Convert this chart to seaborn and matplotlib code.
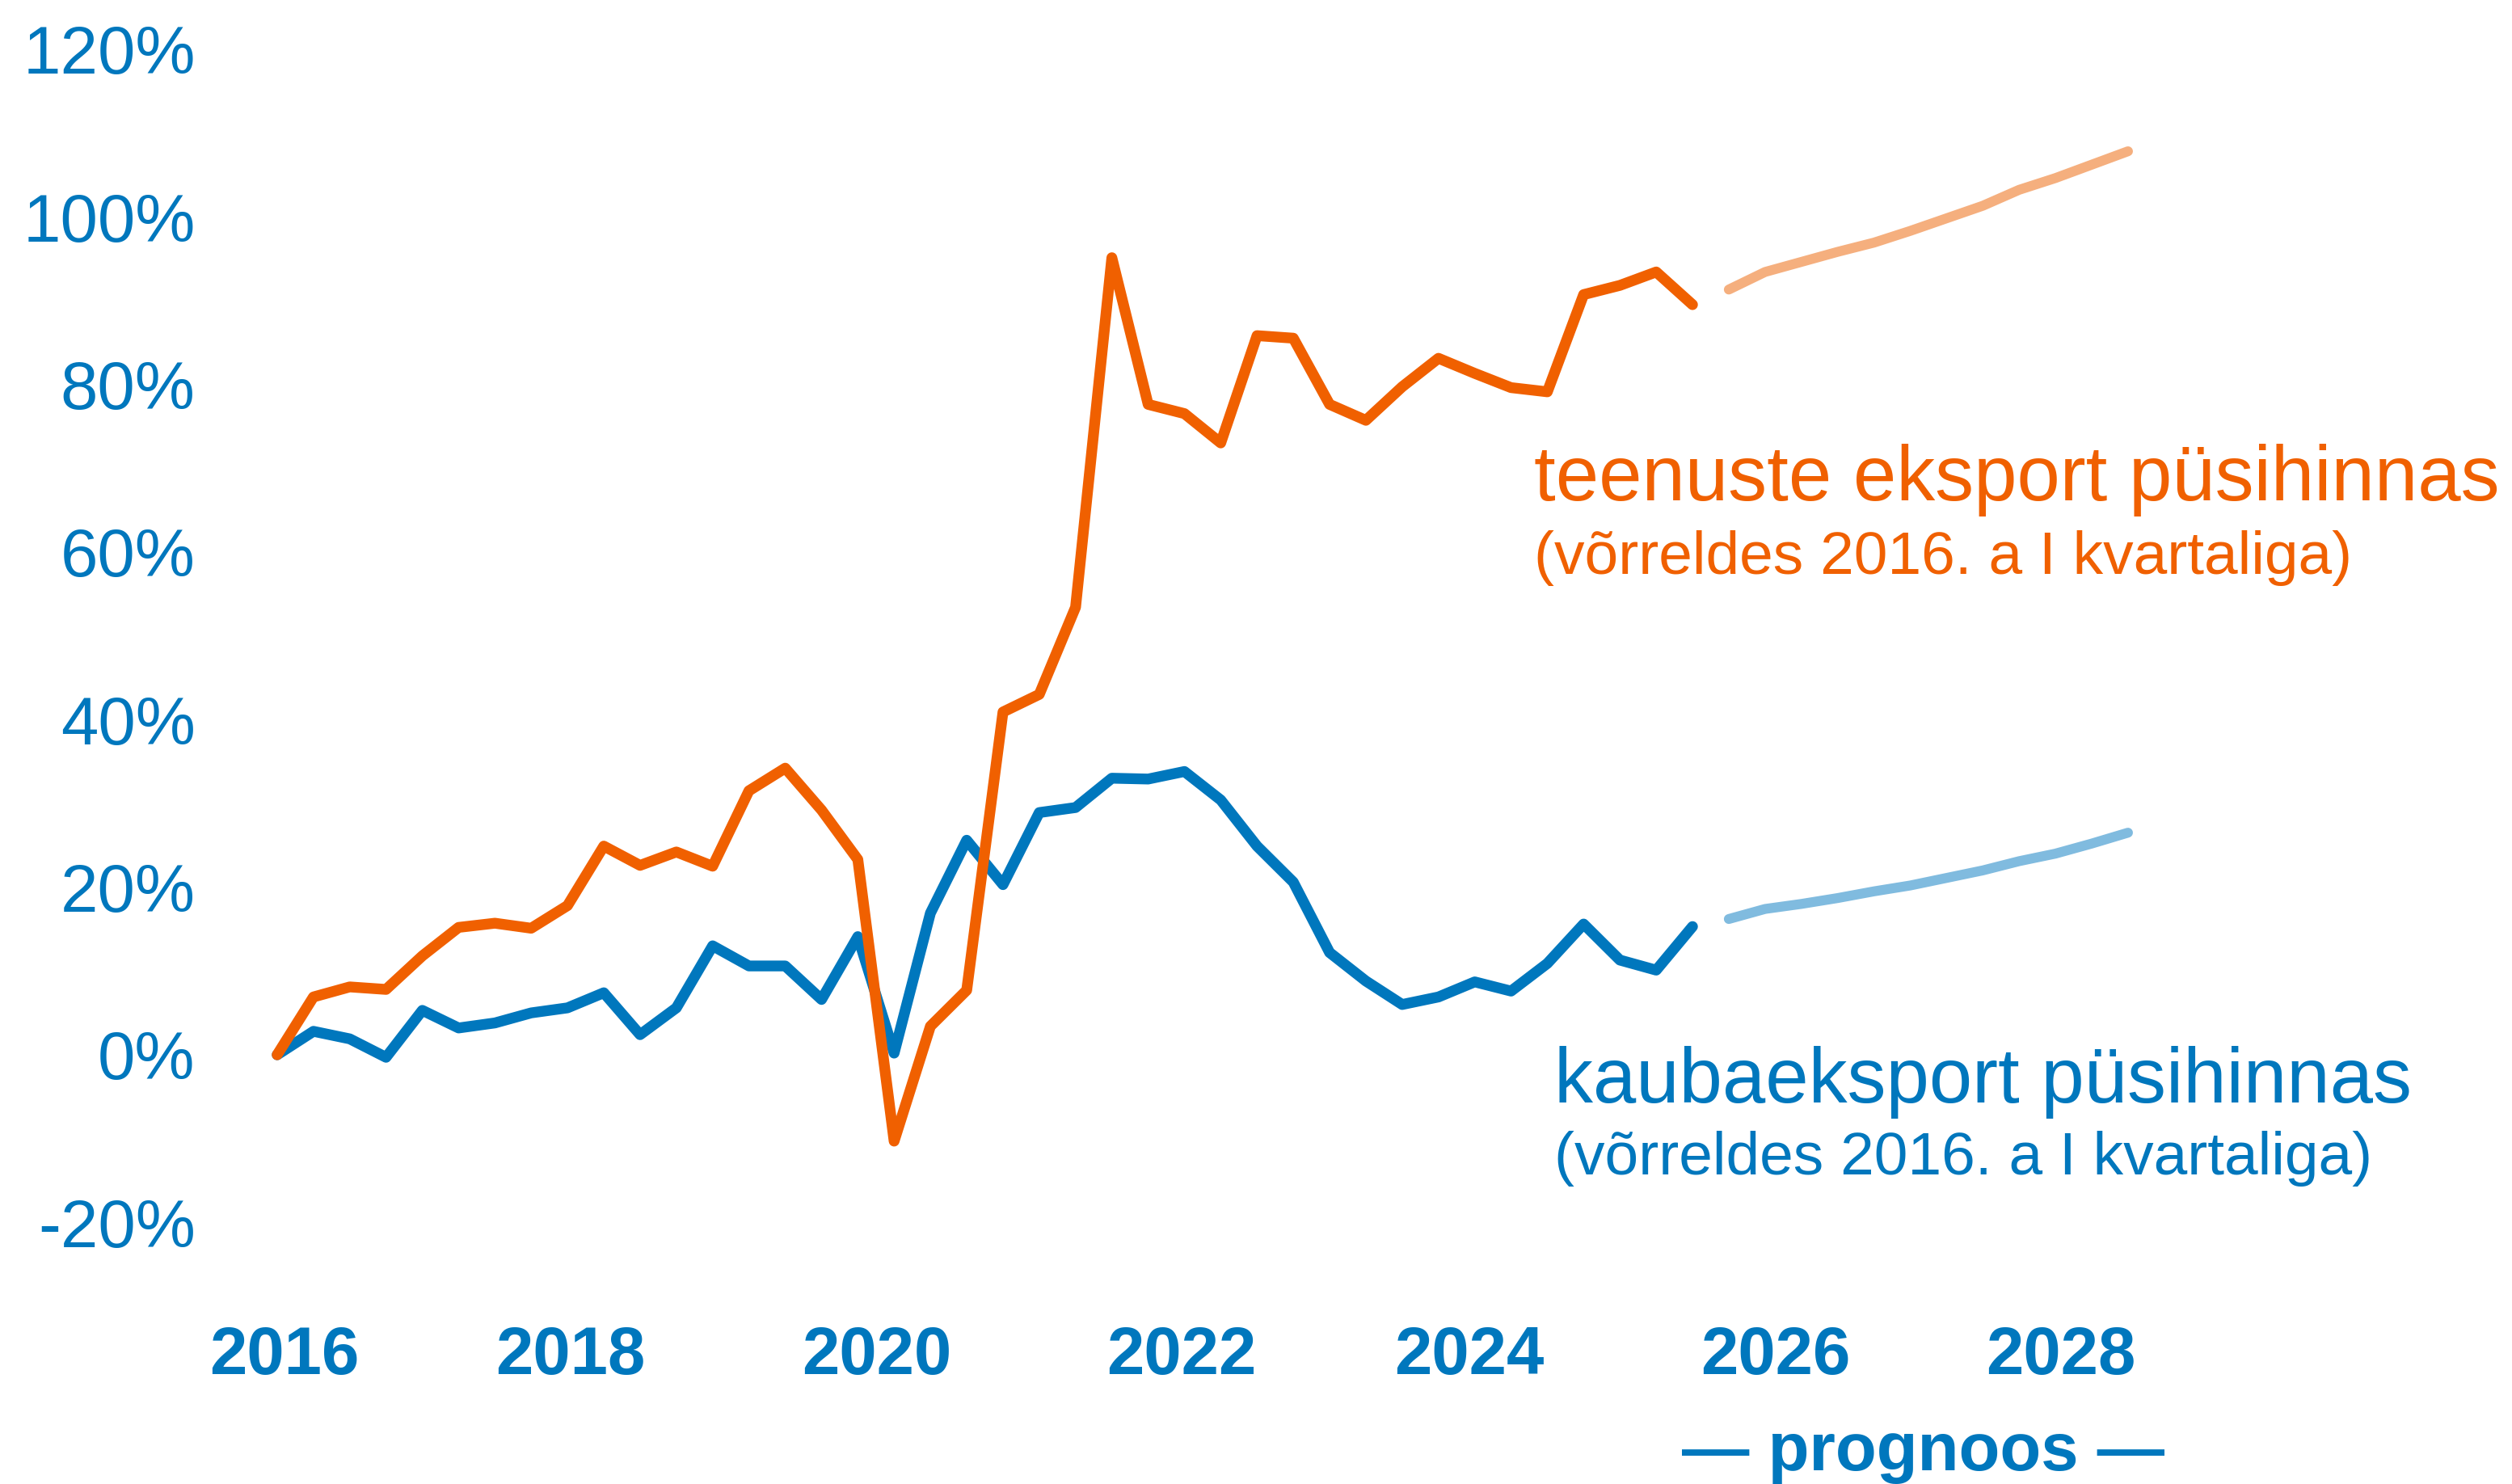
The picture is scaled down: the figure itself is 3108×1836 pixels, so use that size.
import pandas as pd
import seaborn as sns
import matplotlib.pyplot as plt

# quarterly index, 2016 Q1 = 0%
actual_quarters = pd.period_range("2016Q1", "2025Q4", freq="Q")
forecast_quarters = pd.period_range("2026Q1", "2028Q4", freq="Q")

services = [0.0, 6.9, 8.1, 7.8, 11.8, 15.2, 15.7, 15.1, 17.8, 24.9,
            22.6, 24.2, 22.5, 31.5, 34.2, 29.2, 23.3, -10.3, 3.4, 7.7,
            40.9, 43.0, 53.4, 95.1, 77.6, 76.5, 73.0, 85.8, 85.5, 77.6,
            75.7, 79.7, 83.1, 81.3, 79.6, 79.1, 90.7, 91.8, 93.4, 89.5]
goods = [0.0, 2.8, 1.9, -0.3, 5.3, 3.2, 3.8, 5.0, 5.6, 7.4,
         2.4, 5.6, 13.0, 10.6, 10.6, 6.6, 14.1, 0.2, 16.9, 25.6,
         20.3, 28.9, 29.5, 33.0, 32.9, 33.8, 30.4, 24.9, 20.6, 12.2,
         8.8, 6.0, 6.9, 8.7, 7.6, 10.9, 15.6, 11.3, 10.1, 15.3]
services_fc = [91.3, 93.4, 94.6, 95.8, 96.9, 98.3, 99.8, 101.3, 103.2, 104.6, 106.2, 107.8]
goods_fc = [16.2, 17.4, 18.0, 18.7, 19.5, 20.2, 21.1, 22.0, 23.1, 24.0, 25.2, 26.5]

year_labels = ["2016", "2018", "2020", "2022", "2024", "2026", "2028"]
y_ticks = [-20, 0, 20, 40, 60, 80, 100, 120]


def to_year(q):
    return q.year + (q.quarter - 1) / 4


hist = pd.DataFrame({
    "t": [to_year(q) for q in actual_quarters],
    "services": services,
    "goods": goods,
})
fc = pd.DataFrame({
    "t": [to_year(q) for q in forecast_quarters],
    "services": services_fc,
    "goods": goods_fc,
})

BLUE = "#0077BD"
ORANGE = "#F06000"
LIGHT_BLUE = "#80BBDF"
LIGHT_ORANGE = "#F5AF7E"

sns.set_style("white")
plt.rcParams["font.family"] = ["Liberation Sans", "DejaVu Sans"]

fig = plt.figure(figsize=(15.54, 9.18), dpi=200)
ax = fig.add_axes([300 / 3108, 236 / 1836, 2700 / 3108, 1560 / 1836])

fc_kw = dict(linewidth=4.4, solid_capstyle="round", solid_joinstyle="round")
line_kw = dict(linewidth=4.8, solid_capstyle="round", solid_joinstyle="round")
sns.lineplot(data=fc, x="t", y="services", color=LIGHT_ORANGE, ax=ax, **fc_kw)
sns.lineplot(data=fc, x="t", y="goods", color=LIGHT_BLUE, ax=ax, **fc_kw)
sns.lineplot(data=hist, x="t", y="goods", color=BLUE, ax=ax, **line_kw)
sns.lineplot(data=hist, x="t", y="services", color=ORANGE, ax=ax, **line_kw)

ax.set_xlim(2015.761, 2030.794)
ax.set_ylim(-28.45, 121.99)

# year labels sit slightly off the quarter grid in the original
label_offsets = [0.05, 0.02, 0.13, 0.23, 0.21, 0.32, 0.29]
ax.set_xticks([int(y) + o for y, o in zip(year_labels, label_offsets)])
ax.set_xticklabels(year_labels, fontsize=30, fontweight="bold", color=BLUE)
ax.set_yticks(y_ticks)
ax.set_yticklabels([f"{v}%" for v in y_ticks], fontsize=30, color=BLUE)
ax.tick_params(axis="x", length=0, pad=14)
ax.tick_params(axis="y", length=0, pad=21)
ax.set_xlabel("")
ax.set_ylabel("")
sns.despine(ax=ax, left=True, bottom=True)

ax.text(2024.66, 66.2, "teenuste eksport püsihinnas", fontsize=34.5,
        color=ORANGE, va="baseline", ha="left")
ax.text(2024.66, 57.4, "(võrreldes 2016. a I kvartaliga)", fontsize=27,
        color=ORANGE, va="baseline", ha="left")
ax.text(2024.80, -5.7, "kaubaeksport püsihinnas", fontsize=34.5,
        color=BLUE, va="baseline", ha="left")
ax.text(2024.80, -14.3, "(võrreldes 2016. a I kvartaliga)", fontsize=27,
        color=BLUE, va="baseline", ha="left")
ax.text(2027.34, -49.6, "— prognoos —", fontsize=30, fontweight="bold",
        color=BLUE, va="baseline", ha="center", clip_on=False)

fig.savefig("out.png", dpi=200)
